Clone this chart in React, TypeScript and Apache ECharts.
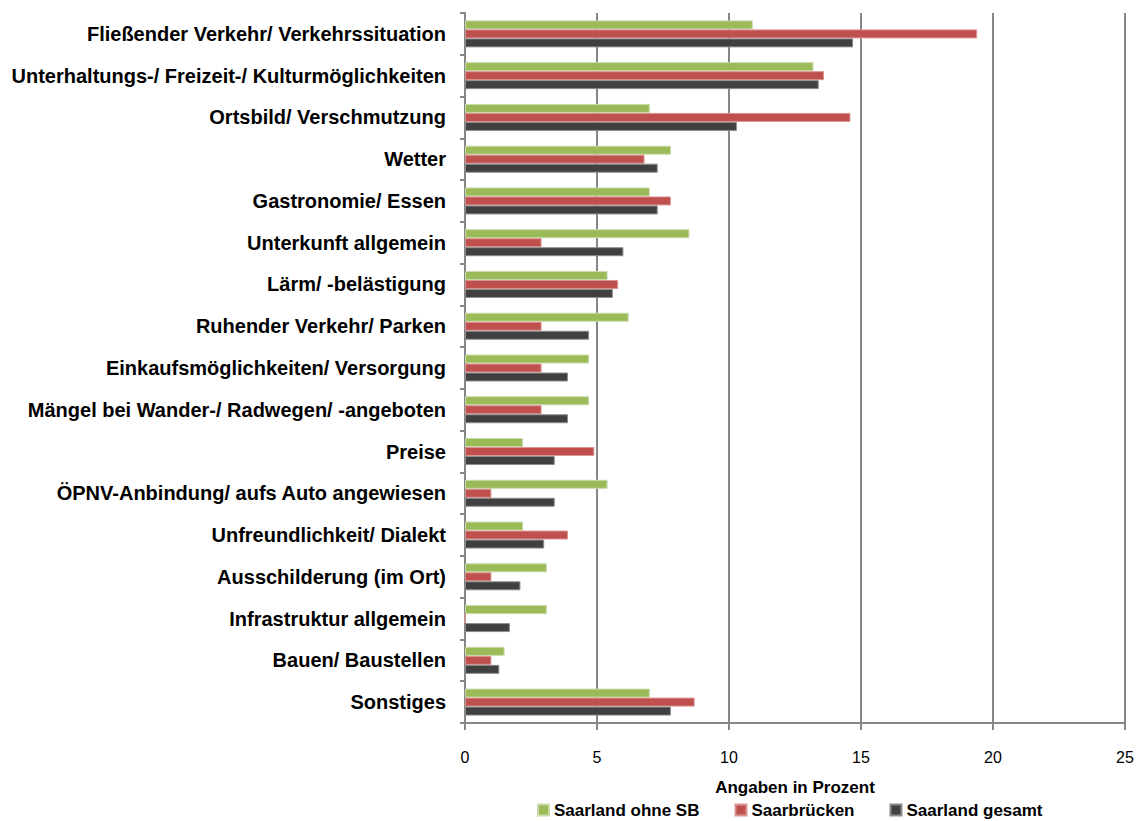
import React, { useEffect, useRef } from "react";
import * as echarts from "echarts";

const categories = [
  "Fließender Verkehr/ Verkehrssituation",
  "Unterhaltungs-/ Freizeit-/ Kulturmöglichkeiten",
  "Ortsbild/ Verschmutzung",
  "Wetter",
  "Gastronomie/ Essen",
  "Unterkunft allgemein",
  "Lärm/ -belästigung",
  "Ruhender Verkehr/ Parken",
  "Einkaufsmöglichkeiten/ Versorgung",
  "Mängel bei Wander-/ Radwegen/ -angeboten",
  "Preise",
  "ÖPNV-Anbindung/ aufs Auto angewiesen",
  "Unfreundlichkeit/ Dialekt",
  "Ausschilderung (im Ort)",
  "Infrastruktur allgemein",
  "Bauen/ Baustellen",
  "Sonstiges",
];

const saarlandOhneSB = [10.9, 13.2, 7.0, 7.8, 7.0, 8.5, 5.4, 6.2, 4.7, 4.7, 2.2, 5.4, 2.2, 3.1, 3.1, 1.5, 7.0];
const saarbruecken = [19.4, 13.6, 14.6, 6.8, 7.8, 2.9, 5.8, 2.9, 2.9, 2.9, 4.9, 1.0, 3.9, 1.0, 0, 1.0, 8.7];
const saarlandGesamt = [14.7, 13.4, 10.3, 7.3, 7.3, 6.0, 5.6, 4.7, 3.9, 3.9, 3.4, 3.4, 3.0, 2.1, 1.7, 1.3, 7.8];

const seriesNames = ["Saarland ohne SB", "Saarbrücken", "Saarland gesamt"];
const xTicks = { min: 0, max: 25, interval: 5 };
const axisTitle = "Angaben in Prozent";

const FONT = "'Liberation Sans', Arial, sans-serif";

export default function App() {
  const ref = useRef<HTMLDivElement>(null);
  useEffect(() => {
    if (!ref.current) return;
    const chart = echarts.init(ref.current, undefined, { renderer: "svg" });
    const colors = ["#9BBB59", "#C0504D", "#404040"];
    const borders = ["#C9DAA8", "#D99593", "#8C8C8C"];
    const data = [saarlandOhneSB, saarbruecken, saarlandGesamt];
    chart.setOption({
      animation: false,
      backgroundColor: "#ffffff",
      textStyle: { fontFamily: FONT },
      grid: { left: 465, right: 15, top: 13, bottom: 98, containLabel: false },
      legend: {
        top: 801,
        left: 537,
        padding: 0,
        itemWidth: 11,
        itemHeight: 11,
        itemGap: 35,
        icon: "rect",
        data: seriesNames,
        textStyle: { fontFamily: FONT, fontWeight: "bold", fontSize: 17, color: "#000", lineHeight: 18 },
      },
      xAxis: {
        type: "value",
        min: xTicks.min,
        max: xTicks.max,
        interval: xTicks.interval,
        name: axisTitle,
        nameLocation: "middle",
        nameGap: 56,
        nameTextStyle: { fontFamily: FONT, fontWeight: "bold", fontSize: 17, color: "#000" },
        axisLine: { show: true, lineStyle: { color: "#868686", width: 2 } },
        axisTick: { show: true, length: 7, lineStyle: { color: "#868686", width: 2 } },
        axisLabel: { fontFamily: FONT, fontSize: 16, color: "#000", margin: 26 },
        splitLine: { show: true, lineStyle: { color: "#868686", width: 2 } },
      },
      yAxis: {
        type: "category",
        data: categories,
        inverse: true,
        axisLine: { show: true, lineStyle: { color: "#868686", width: 2 } },
        axisTick: { show: true, length: 5, lineStyle: { color: "#868686", width: 2 } },
        axisLabel: { fontFamily: FONT, fontWeight: "bold", fontSize: 20, color: "#000", margin: 19 },
        splitLine: { show: false },
      },
      series: data.map((d, i) => ({
        name: seriesNames[i],
        type: "bar",
        data: d,
        barWidth: 9,
        barGap: "0%",
        itemStyle: { color: colors[i], borderColor: borders[i], borderWidth: 1 },
      })),
    });
    return () => chart.dispose();
  }, []);
  return (
    <div
      ref={ref}
      style={{ position: "fixed", left: 0, top: 0, width: 1140, height: 821, background: "#fff" }}
    />
  );
}
